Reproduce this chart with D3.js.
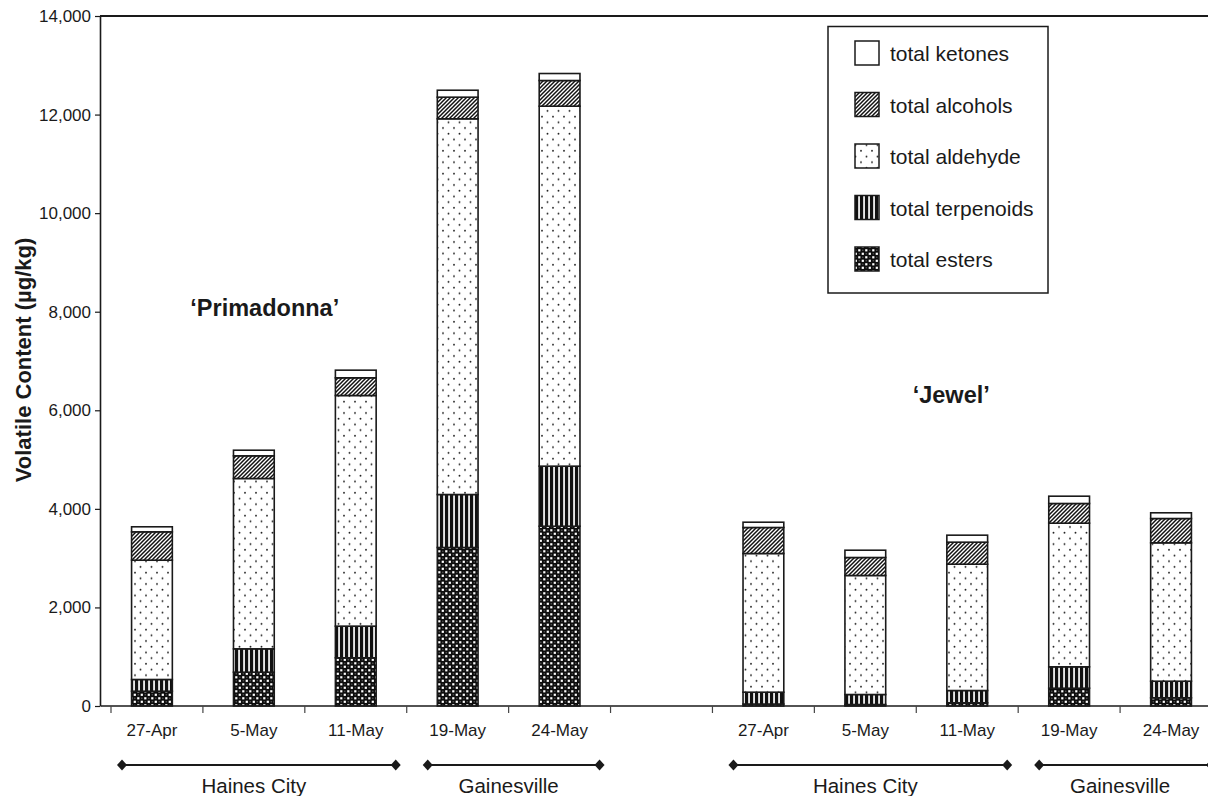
<!DOCTYPE html>
<html>
<head>
<meta charset="utf-8">
<script src="https://cdn.jsdelivr.net/npm/d3@7"></script>
<style>
  html, body { margin: 0; padding: 0; background: #fff; }
  svg { display: block; font-family: "Liberation Sans", Arial, Helvetica, sans-serif; }
</style>
</head>
<body>
<script>
// ---------------- DATA ----------------
const dates = ["27-Apr", "5-May", "11-May", "19-May", "24-May"];
const cultivars = ["\u2018Primadonna\u2019", "\u2018Jewel\u2019"];
// first 5 values: 'Primadonna', next 5: 'Jewel' (same date order)
const esters     = [300, 686, 978, 3216, 3648,   40,  30,  65, 361, 166];
const terpenoids = [238, 474, 642, 1075, 1218,  240, 203, 249, 434, 337];
const aldehyde   = [2420, 3456, 4680, 7623, 7304, 2814, 2415, 2563, 2914, 2808];
const alcohols   = [576, 460, 359, 439, 521,   528, 365, 447, 400, 493];
const ketones    = [102, 114, 155, 141, 142,   107, 148, 142, 148, 116];
const seriesNames = ["total esters", "total terpenoids", "total aldehyde", "total alcohols", "total ketones"];
const yTicks = [0, 2000, 4000, 6000, 8000, 10000, 12000, 14000];
const locationLabels = ["Haines City", "Gainesville", "Haines City", "Gainesville"];
const locationFirst = [0, 3, 5, 8];   // index into the 10 bars
const locationLast  = [2, 4, 7, 9];

// ---------------- SETUP ----------------
const W = 1208, H = 796;
const svg = d3.select("body").append("svg").attr("width", W).attr("height", H);
const ink = "#1a1a1a";

// categories: 5 Primadonna, one empty gap slot, 5 Jewel
const catKeys = [];
dates.forEach(d => catKeys.push("P|" + d));
catKeys.push("gap");
dates.forEach(d => catKeys.push("J|" + d));
const barKeys = catKeys.filter(k => k !== "gap");

const x = d3.scaleBand().domain(catKeys).range([101, 1222]).paddingInner(0.6).paddingOuter(0.3);
const y = d3.scaleLinear().domain([0, 14000]).range([706, 16]);

// ---------------- PATTERNS ----------------
const defs = svg.append("defs");
// hatch (alcohols)
const ph = defs.append("pattern").attr("id", "hatch").attr("patternUnits", "userSpaceOnUse")
  .attr("width", 4).attr("height", 4);
ph.append("rect").attr("width", 4).attr("height", 4).attr("fill", "#fff");
ph.append("path").attr("d", "M-1,1 l2,-2 M0,4 l4,-4 M3,5 l2,-2")
  .attr("stroke", "#111").attr("stroke-width", 1.5);
// dots (aldehyde)
const pd = defs.append("pattern").attr("id", "dots").attr("patternUnits", "userSpaceOnUse")
  .attr("width", 11).attr("height", 11.4);
pd.append("rect").attr("width", 11).attr("height", 11.4).attr("fill", "#fff");
pd.append("circle").attr("cx", 3).attr("cy", 2.5).attr("r", 0.95).attr("fill", "#222");
pd.append("circle").attr("cx", 8.5).attr("cy", 8.2).attr("r", 0.95).attr("fill", "#222");
// vertical stripes (terpenoids)
const pv = defs.append("pattern").attr("id", "vstripes").attr("patternUnits", "userSpaceOnUse")
  .attr("width", 5).attr("height", 10);
pv.append("rect").attr("width", 5).attr("height", 10).attr("fill", "#111");
pv.append("rect").attr("x", 3.2).attr("width", 1.7).attr("height", 10).attr("fill", "#fff");
// esters: black with white checks
const pe = defs.append("pattern").attr("id", "esters").attr("patternUnits", "userSpaceOnUse")
  .attr("width", 7).attr("height", 7);
pe.append("rect").attr("width", 7).attr("height", 7).attr("fill", "#0d0d0d");
pe.append("rect").attr("x", 0.7).attr("y", 0.7).attr("width", 2.2).attr("height", 2.2).attr("fill", "#fff");
pe.append("rect").attr("x", 4.2).attr("y", 4.2).attr("width", 2.2).attr("height", 2.2).attr("fill", "#fff");
pe.append("circle").attr("cx", 5.3).attr("cy", 1.8).attr("r", 0.8).attr("fill", "#555");
pe.append("circle").attr("cx", 1.8).attr("cy", 5.3).attr("r", 0.8).attr("fill", "#555");

const fills = ["url(#esters)", "url(#vstripes)", "url(#dots)", "url(#hatch)", "#fff"];

// ---------------- BARS ----------------
const table = barKeys.map((k, i) => ({
  key: k, esters: esters[i], terpenoids: terpenoids[i], aldehyde: aldehyde[i],
  alcohols: alcohols[i], ketones: ketones[i]
}));
const stack = d3.stack().keys(["esters", "terpenoids", "aldehyde", "alcohols", "ketones"]);
const stacked = stack(table);

const gBars = svg.append("g");
stacked.forEach((layer, li) => {
  gBars.selectAll(null).data(layer).enter().append("rect")
    .attr("x", d => x(d.data.key))
    .attr("width", x.bandwidth())
    .attr("y", d => y(d[1]))
    .attr("height", d => y(d[0]) - y(d[1]))
    .attr("fill", fills[li])
    .attr("stroke", ink)
    .attr("stroke-width", 1.6);
});

// ---------------- AXES ----------------
// top border
svg.append("line").attr("x1", x.range()[0] - 1).attr("x2", x.range()[1])
  .attr("y1", y(14000)).attr("y2", y(14000)).attr("stroke", ink).attr("stroke-width", 2);

const yAxis = svg.append("g").attr("transform", "translate(100,0)")
  .call(d3.axisLeft(y).tickValues(yTicks).tickFormat(d3.format(",")).tickSize(5).tickSizeOuter(0).tickPadding(4));
yAxis.select(".domain").attr("stroke", ink).attr("stroke-width", 1.6);
yAxis.selectAll(".tick line").attr("stroke", ink).attr("stroke-width", 1.2);
yAxis.selectAll(".tick text").attr("font-size", 17).attr("fill", ink)
  .attr("font-family", "Liberation Sans, Arial, sans-serif");

// x axis baseline
svg.append("line").attr("x1", x.range()[0]).attr("x2", x.range()[1])
  .attr("y1", y(0)).attr("y2", y(0)).attr("stroke", ink).attr("stroke-width", 1.6);
// x ticks at band boundaries
const step = x.step();
const boundaries = catKeys.map(k => x(k) - step * x.paddingInner() / 2);
boundaries[0] = boundaries[0] + 10;
svg.selectAll(null).data(boundaries).enter().append("line")
  .attr("x1", d => d).attr("x2", d => d)
  .attr("y1", y(0)).attr("y2", y(0) + 7)
  .attr("stroke", "#444").attr("stroke-width", 1.2);

// x labels
svg.selectAll(null).data(barKeys).enter().append("text")
  .attr("x", k => x(k) + x.bandwidth() / 2)
  .attr("y", 736)
  .attr("text-anchor", "middle")
  .attr("font-size", 17).attr("fill", ink)
  .text(k => k.split("|")[1]);

// y title
svg.append("text")
  .attr("transform", "translate(31,360) rotate(-90)")
  .attr("text-anchor", "middle")
  .attr("font-size", 22).attr("font-weight", "bold").attr("fill", ink)
  .text("Volatile Content (\u00b5g/kg)");

// cultivar labels
const pKeys = barKeys.slice(0, 5), jKeys = barKeys.slice(5);
svg.append("text")
  .attr("x", (x(pKeys[0]) + x(pKeys[4]) + x.bandwidth()) / 2 - 91)
  .attr("y", 316)
  .attr("text-anchor", "middle").attr("font-size", 23.5).attr("font-weight", "bold").attr("fill", ink)
  .text(cultivars[0]);
svg.append("text")
  .attr("x", (x(jKeys[0]) + x(jKeys[4]) + x.bandwidth()) / 2 - 16)
  .attr("y", 403)
  .attr("text-anchor", "middle").attr("font-size", 23.5).attr("font-weight", "bold").attr("fill", ink)
  .text(cultivars[1]);

// location lines
const locY = 765;
locationLabels.forEach((lab, i) => {
  const a = barKeys[locationFirst[i]], b = barKeys[locationLast[i]];
  const x1 = x(a) - step * 0.3 + 21;
  const x2 = x(b) + x.bandwidth() + step * 0.3 - 11;
  svg.append("line").attr("x1", x1).attr("x2", x2).attr("y1", locY).attr("y2", locY)
    .attr("stroke", ink).attr("stroke-width", 2);
  [x1, x2].forEach(xx => {
    svg.append("path")
      .attr("d", `M${xx - 5},${locY} L${xx},${locY - 5.5} L${xx + 5},${locY} L${xx},${locY + 5.5} Z`)
      .attr("fill", ink);
  });
  svg.append("text")
    .attr("x", (x(a) + x(b) + x.bandwidth()) / 2)
    .attr("y", 793)
    .attr("text-anchor", "middle").attr("font-size", 20.5).attr("fill", ink)
    .text(lab);
});

// ---------------- LEGEND ----------------
const leg = svg.append("g");
leg.append("rect").attr("x", 828).attr("y", 26.5).attr("width", 220).attr("height", 266.5)
  .attr("fill", "#fff").attr("stroke", ink).attr("stroke-width", 1.5);
const legOrder = [4, 3, 2, 1, 0];
legOrder.forEach((si, i) => {
  const yy = 41 + i * 51.5;
  leg.append("rect").attr("x", 855).attr("y", yy).attr("width", 24).attr("height", 24)
    .attr("fill", fills[si]).attr("stroke", ink).attr("stroke-width", 1.5);
  leg.append("text").attr("x", 890).attr("y", yy + 20)
    .attr("font-size", 21).attr("fill", ink).text(seriesNames[si]);
});
</script>
</body>
</html>
